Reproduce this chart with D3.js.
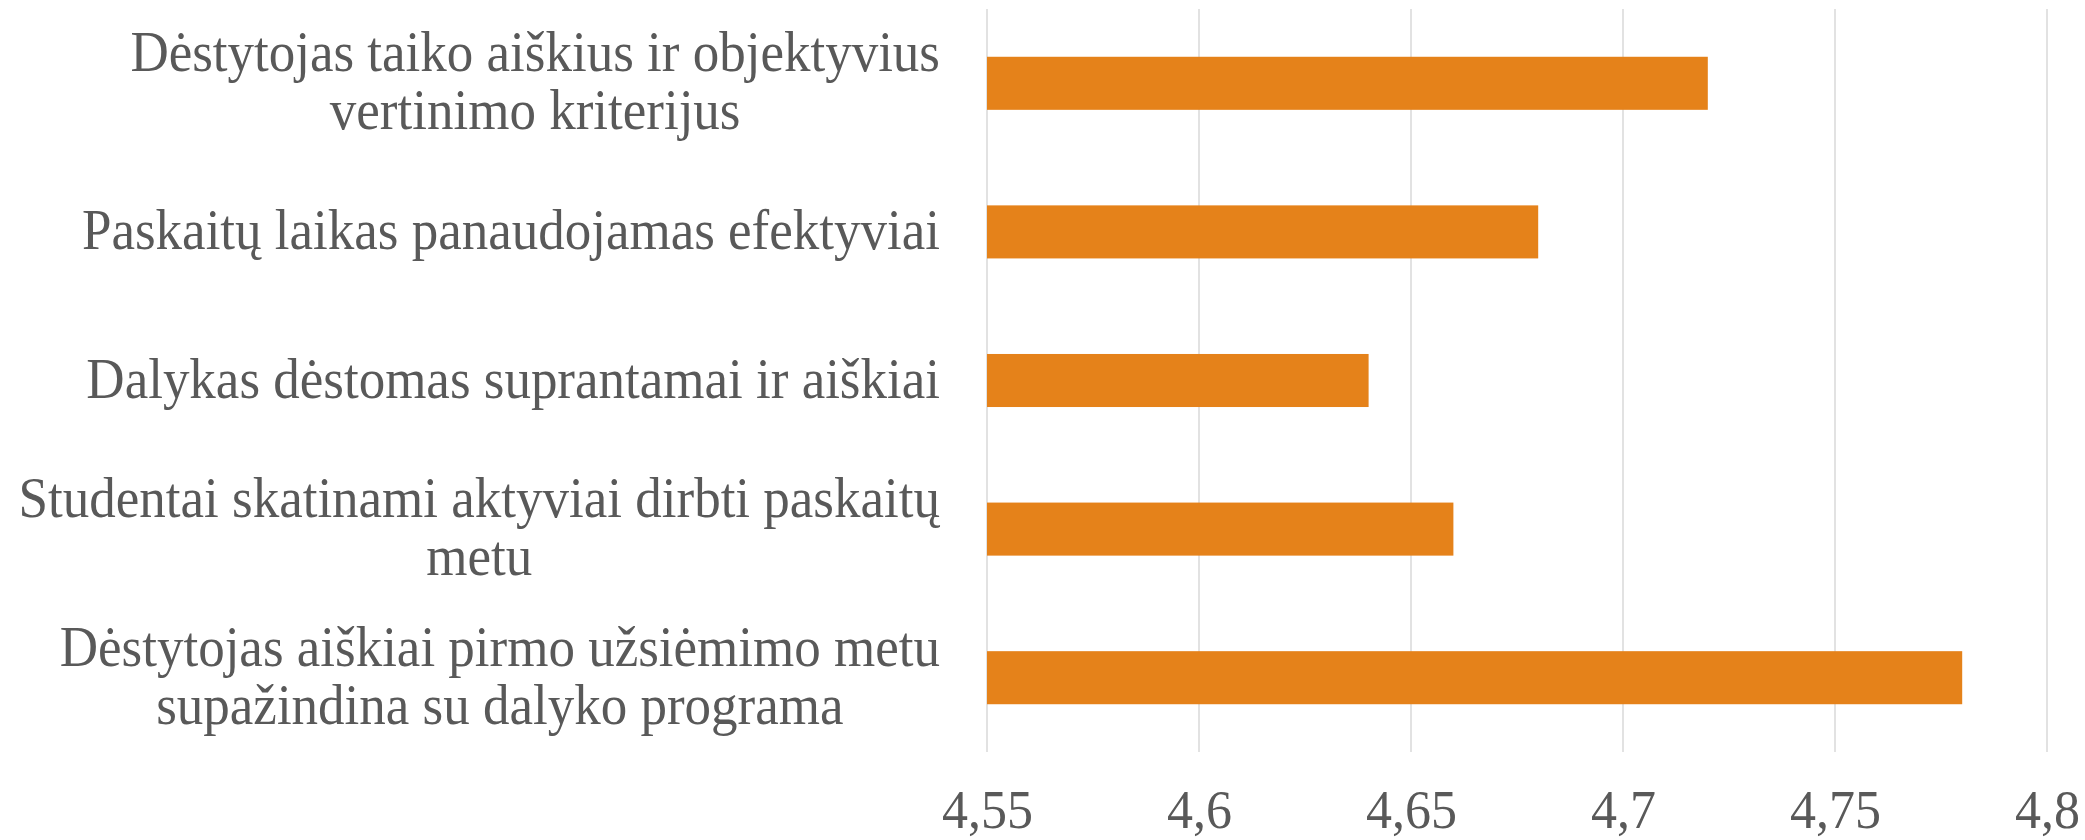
<!DOCTYPE html>
<html>
<head>
<meta charset="utf-8">
<script src="https://cdn.jsdelivr.net/npm/d3@7"></script>
<style>
  html, body { margin: 0; padding: 0; background: #ffffff; }
  svg { display: block; }
</style>
</head>
<body>
<svg id="chart" width="2085" height="840"></svg>
<script>
// ---- data ----
const categories = [
  "Dėstytojas taiko aiškius ir objektyvius\nvertinimo kriterijus",
  "Paskaitų laikas panaudojamas efektyviai",
  "Dalykas dėstomas suprantamai ir aiškiai",
  "Studentai skatinami aktyviai dirbti paskaitų\nmetu",
  "Dėstytojas aiškiai pirmo užsiėmimo metu\nsupažindina su dalyko programa"
];
const values = [4.72, 4.68, 4.64, 4.66, 4.78];
const tickValues = [4.55, 4.6, 4.65, 4.7, 4.75, 4.8];

// ---- layout ----
const W = 2085, H = 840;
const plot = { left: 987, right: 2047, top: 9, bottom: 752 };
const barColor = "#E5821A";
const textColor = "#595959";
const gridColor = "#D9D9D9";
const fontFamily = "'Liberation Serif', 'Times New Roman', serif";
const stretch = 1.06;

const svg = d3.select("#chart");

const x = d3.scaleLinear().domain([4.55, 4.8]).range([plot.left, plot.right]);
const y = d3.scaleBand().domain(categories).range([plot.top, plot.bottom])
  .paddingInner(0.643).paddingOuter(0.3215);

// gridlines
svg.append("g").selectAll("line").data(tickValues).join("line")
  .attr("x1", d => x(d)).attr("x2", d => x(d))
  .attr("y1", plot.top).attr("y2", plot.bottom)
  .attr("stroke", gridColor).attr("stroke-width", 1.5);

// bars
svg.append("g").selectAll("rect").data(values).join("rect")
  .attr("x", x(4.55))
  .attr("y", (d, i) => y(categories[i]))
  .attr("width", d => x(d) - x(4.55))
  .attr("height", y.bandwidth())
  .attr("fill", barColor);

// x axis tick labels
const xAxis = d3.axisBottom(x).tickValues(tickValues).tickSize(0)
  .tickFormat(d => String(+d.toFixed(2)).replace(".", ","));
const gx = svg.append("g").attr("transform", `translate(0,828)`).call(xAxis);
gx.select(".domain").remove();
gx.selectAll("text")
  .attr("y", 0).attr("dy", 0)
  .attr("transform", `scale(1,${stretch})`)
  .attr("fill", textColor)
  .style("font-family", fontFamily)
  .style("font-size", "52px");

// category labels (multi-line, centred block, right-aligned to plot)
const labelRight = 940;
const lineGap = 58;
const baseOffset = 17;
const labels = svg.append("g");
categories.forEach(cat => {
  const lines = cat.split("\n");
  const cy = y(cat) + y.bandwidth() / 2;
  const g = labels.append("g");
  const texts = g.selectAll("text").data(lines).join("text")
    .text(d => d)
    .attr("fill", textColor)
    .style("font-family", fontFamily)
    .style("font-size", "53px")
    .attr("text-anchor", "middle");
  let maxW = 0;
  texts.each(function() { maxW = Math.max(maxW, this.getComputedTextLength()); });
  texts.attr("transform", (d, i) =>
    `translate(${labelRight - maxW / 2},${cy + baseOffset + (i - (lines.length - 1) / 2) * lineGap}) scale(1,${stretch})`);
});
</script>
</body>
</html>
